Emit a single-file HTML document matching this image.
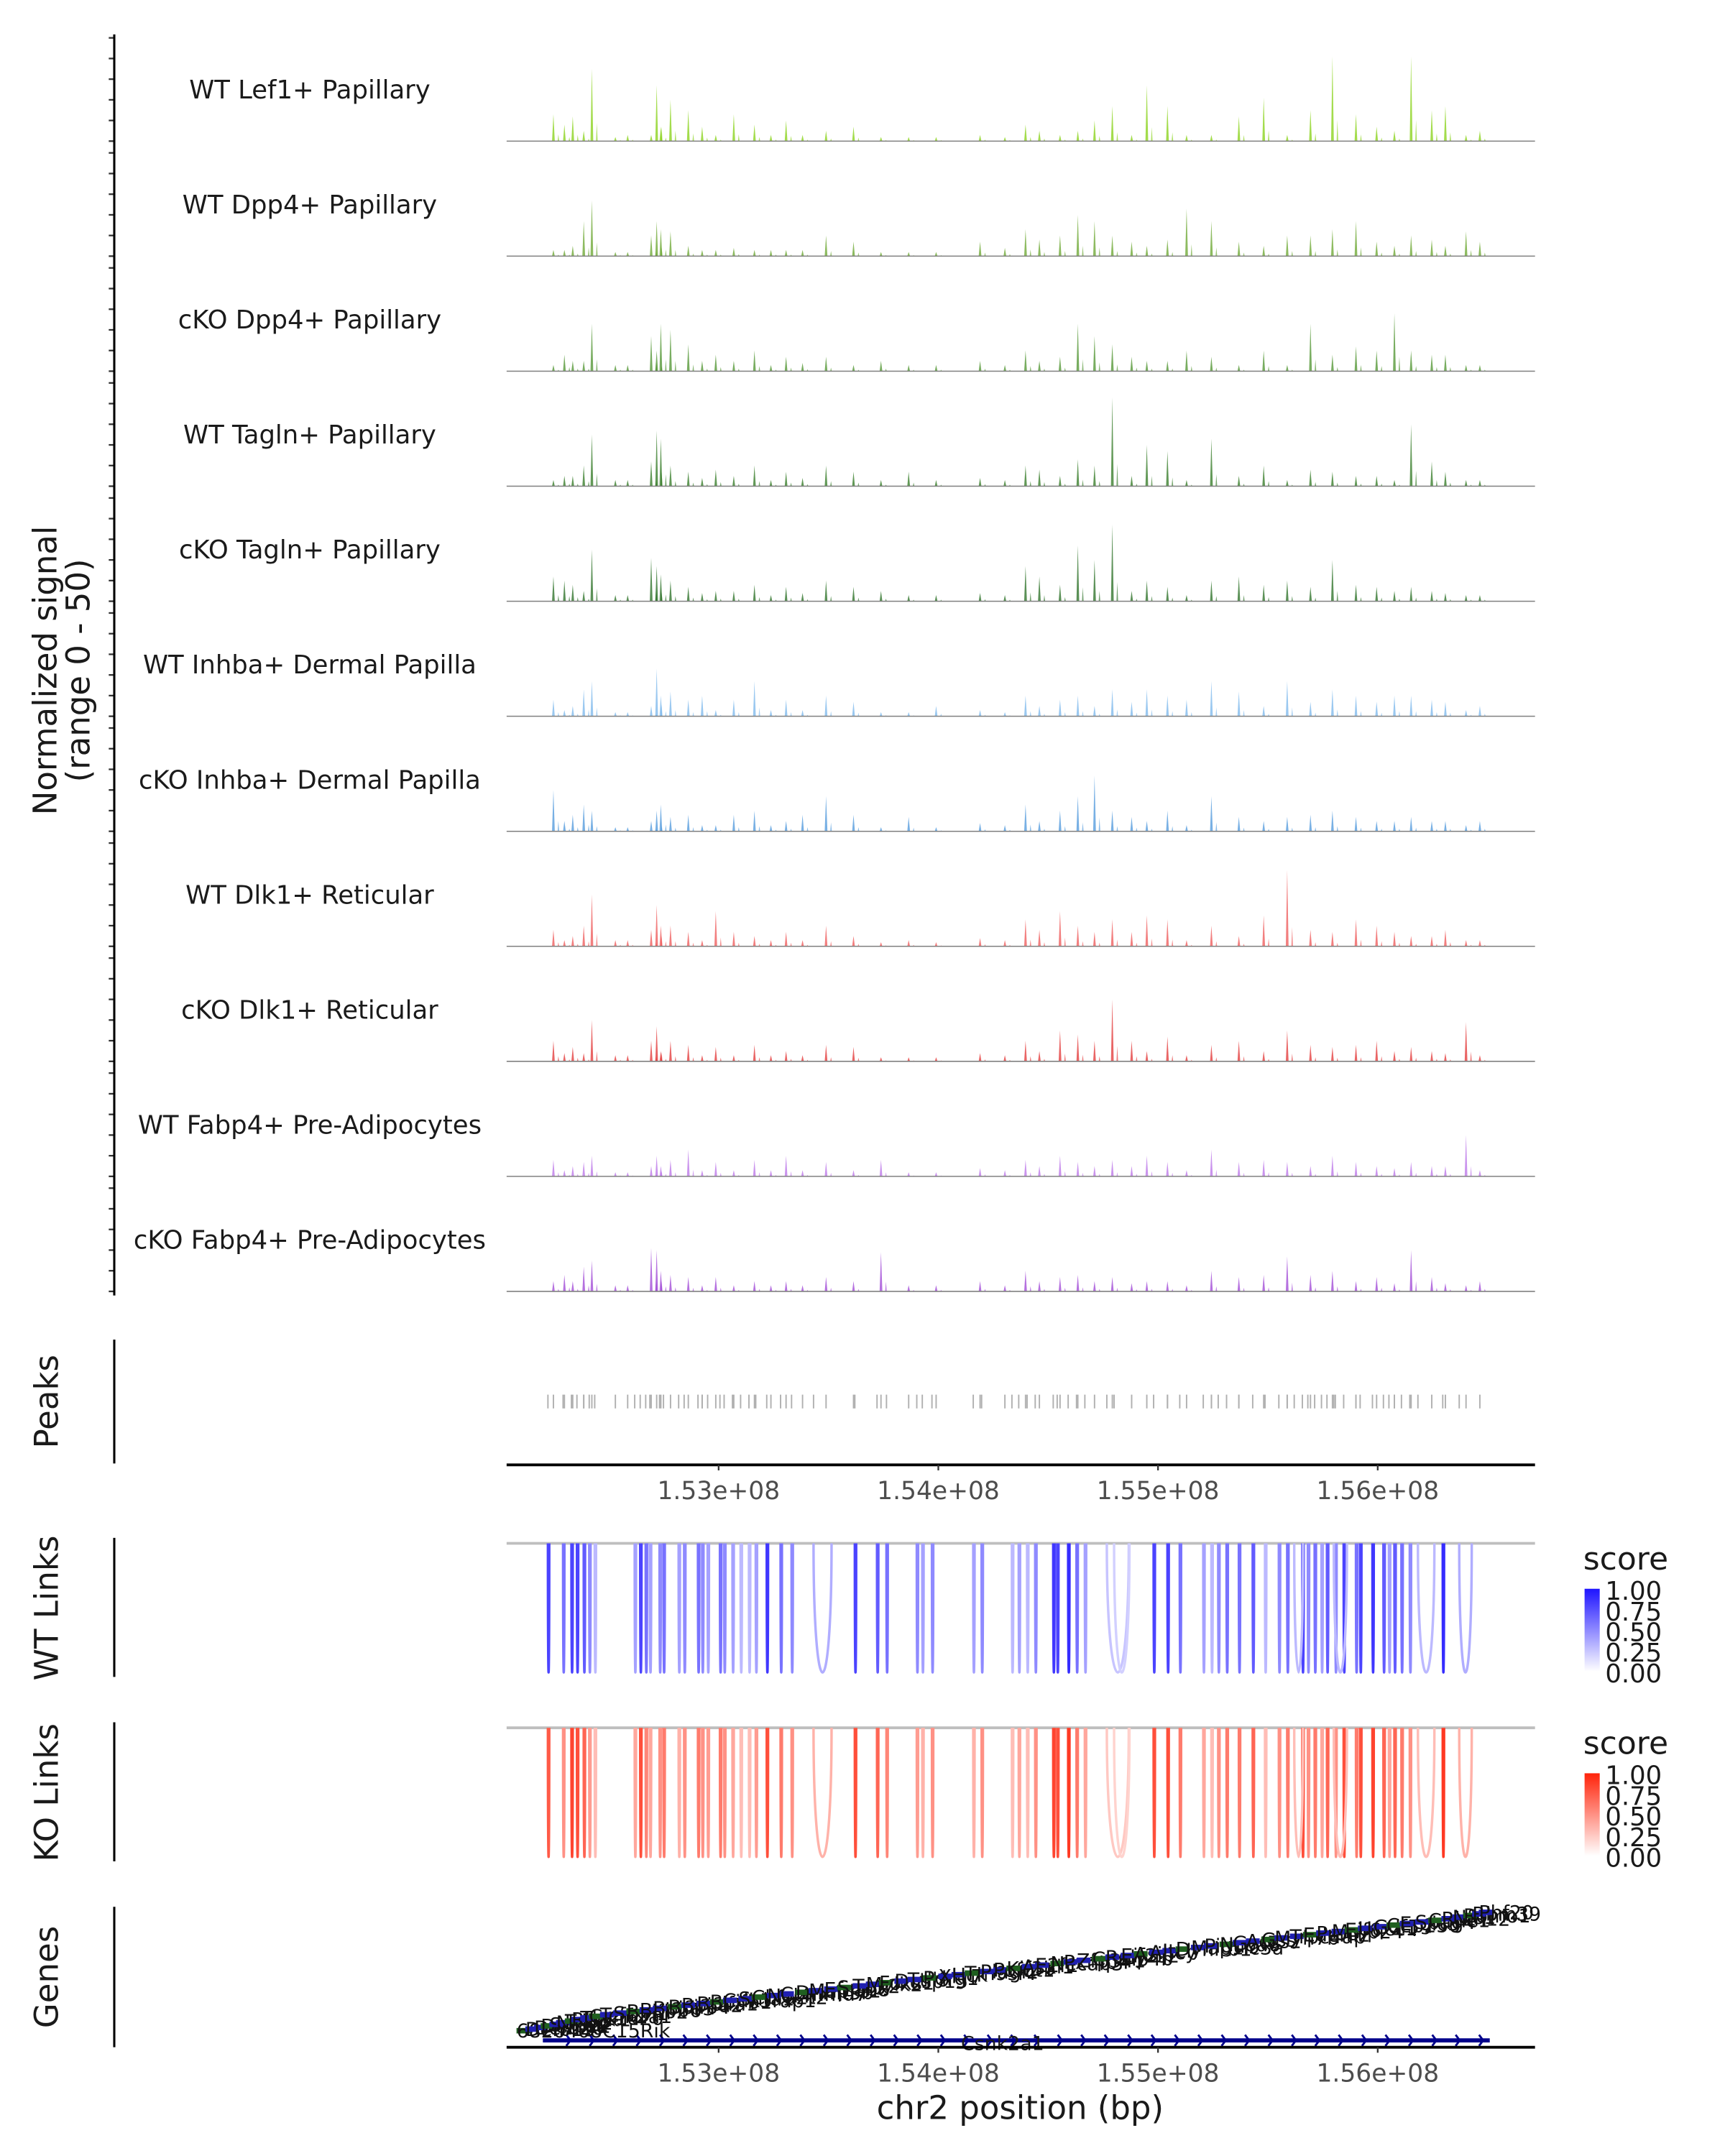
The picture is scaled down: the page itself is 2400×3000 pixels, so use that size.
<!DOCTYPE html>
<html><head><meta charset="utf-8">
<style>
html,body{margin:0;padding:0;background:#fff;}
svg{display:block;font-family:"DejaVu Sans","Liberation Sans",sans-serif;}
</style></head>
<body>
<svg id="chart" width="2400" height="3000" viewBox="0 0 1253 1566" preserveAspectRatio="none" xmlns="http://www.w3.org/2000/svg">
<g id="cov"></g>
<g id="axes"></g>
<g id="peaks"></g>
<g id="links"></g>
<g id="genes"></g>
</svg>
<script>
const trackNames = ["WT Lef1+ Papillary","WT Dpp4+ Papillary","cKO Dpp4+ Papillary","WT Tagln+ Papillary","cKO Tagln+ Papillary","WT Inhba+ Dermal Papilla","cKO Inhba+ Dermal Papilla","WT Dlk1+ Reticular","cKO Dlk1+ Reticular","WT Fabp4+ Pre-Adipocytes","cKO Fabp4+ Pre-Adipocytes"];
const trackColors = ["#7ccd00","#5c9e1c","#3f8a1c","#1f6e10","#16620f","#6fb0ea","#3f8fd8","#ec4848","#e02424","#b466e6","#9634d2"];
const peakLoci = [152.248,152.298,152.336,152.386,152.423,152.530,152.586,152.693,152.718,152.737,152.781,152.862,152.925,152.987,153.069,153.163,153.238,153.307,153.382,153.489,153.614,153.739,153.865,153.990,154.190,154.303,154.397,154.460,154.554,154.635,154.711,154.792,154.880,154.949,155.043,155.130,155.243,155.368,155.481,155.588,155.694,155.794,155.901,155.995,156.076,156.152,156.246,156.308,156.402,156.465];
const sigLef1WT = [13,8,12,5,35,2,3,3,27,7,20,15,7,3,13,8,3,10,3,5,7,2,2,2,3,2,8,5,3,5,10,17,3,27,17,3,3,12,21,3,15,41,13,7,5,41,15,17,3,5];
const sigDpp4WT = [3,3,5,17,27,2,2,10,17,13,12,5,3,3,4,3,3,3,3,10,7,2,2,2,7,4,13,8,10,20,17,10,7,5,8,23,17,7,5,10,10,13,17,7,5,10,8,5,12,7];
const sigDpp4KO = [3,8,5,5,23,3,3,17,10,23,20,13,5,8,5,10,3,7,4,7,3,5,3,3,5,3,10,5,7,23,17,13,7,5,5,10,7,3,10,3,23,8,12,10,28,10,8,8,3,3];
const sigTaglnWT = [3,5,5,10,25,3,3,12,27,23,10,7,4,8,5,10,3,7,4,10,7,3,7,3,4,3,10,8,5,13,10,43,5,20,17,3,23,5,10,3,8,7,5,5,3,30,12,7,3,3];
const sigTaglnKO = [12,10,8,5,25,3,3,21,17,13,10,7,4,5,5,8,3,7,4,10,7,5,3,3,4,3,17,12,8,27,20,37,5,10,7,3,10,12,8,10,7,20,8,7,5,7,5,4,3,3];
const sigInhbaWT = [8,3,5,13,17,2,2,5,23,10,12,8,10,3,8,17,3,8,3,10,7,2,2,5,3,2,10,5,8,10,5,13,7,13,10,8,17,12,5,17,7,13,10,7,10,10,8,7,3,5];
const sigInhbaKO = [20,5,8,13,10,2,2,5,10,13,7,8,3,3,8,10,3,5,8,17,8,2,7,2,4,3,13,5,10,17,27,10,7,5,10,3,17,7,5,7,8,10,7,5,5,7,5,5,3,5];
const sigDlk1WT = [8,3,5,10,25,3,3,8,20,10,10,7,3,17,7,5,3,7,3,10,5,2,3,2,4,3,13,8,17,10,7,13,7,15,13,3,10,5,15,37,8,7,13,10,7,5,5,8,3,3];
const sigDlk1KO = [10,4,7,4,20,3,3,10,17,5,10,8,3,7,3,8,3,5,3,8,7,2,2,2,4,3,10,5,15,13,10,30,10,5,12,3,8,10,5,15,8,7,8,10,5,7,5,4,19,3];
const sigFabp4WT = [8,3,5,7,10,2,2,5,10,5,8,13,3,7,3,8,3,10,3,7,3,8,2,2,4,3,8,5,10,7,5,8,5,10,7,3,13,7,8,7,5,10,7,5,4,7,5,5,20,3];
const sigFabp4KO = [5,8,5,12,15,3,3,21,20,10,8,7,3,7,3,5,3,5,3,7,5,19,3,3,5,3,10,5,7,8,5,7,4,5,5,3,10,7,8,17,8,10,5,7,4,20,7,4,3,5];
const signals = [sigLef1WT,sigDpp4WT,sigDpp4KO,sigTaglnWT,sigTaglnKO,sigInhbaWT,sigInhbaKO,sigDlk1WT,sigDlk1KO,sigFabp4WT,sigFabp4KO];
const xTicks = [153,154,155,156];
const xTickLabels = ["1.53e+08","1.54e+08","1.55e+08","1.56e+08"];
const linkStart = [152.223,152.292,152.330,152.355,152.386,152.411,152.436,152.618,152.643,152.668,152.687,152.731,152.749,152.818,152.843,152.906,152.925,152.950,153.006,153.025,153.063,153.100,153.138,153.169,153.219,153.282,153.332,153.620,153.721,153.764,153.902,153.927,153.971,154.159,154.197,154.335,154.366,154.404,154.441,154.523,154.541,154.591,154.629,154.667,154.980,155.043,155.099,155.206,155.243,155.274,155.312,155.368,155.431,155.487,155.550,155.588,155.657,155.682,155.713,155.744,155.769,155.807,155.845,155.901,155.920,155.976,156.026,156.051,156.076,156.108,156.146,156.296,153.432,154.767,154.800,156.183,156.371,155.620,155.800];
const linkEnd = [152.229,152.298,152.336,152.361,152.392,152.417,152.442,152.624,152.649,152.674,152.693,152.737,152.755,152.824,152.849,152.912,152.931,152.956,153.012,153.031,153.069,153.106,153.144,153.175,153.225,153.288,153.338,153.626,153.727,153.770,153.908,153.933,153.977,154.165,154.203,154.341,154.372,154.410,154.447,154.529,154.547,154.597,154.635,154.673,154.986,155.049,155.105,155.212,155.249,155.280,155.318,155.374,155.437,155.493,155.556,155.594,155.663,155.688,155.719,155.750,155.775,155.813,155.851,155.907,155.926,155.982,156.032,156.057,156.082,156.114,156.152,156.302,153.514,154.867,154.870,156.258,156.428,155.660,155.860];
const wtScore = [0.8,0.6,0.8,0.8,0.7,0.5,0.3,0.4,0.8,0.6,0.4,0.5,0.6,0.4,0.5,0.6,0.5,0.4,0.6,0.5,0.4,0.3,0.3,0.4,0.85,0.6,0.5,0.8,0.7,0.6,0.5,0.4,0.5,0.4,0.5,0.3,0.4,0.3,0.5,0.85,0.8,0.9,0.6,0.4,0.8,0.8,0.6,0.4,0.3,0.5,0.6,0.6,0.7,0.3,0.5,0.6,0.8,0.5,0.6,0.4,0.7,0.5,0.8,0.6,0.8,0.85,0.7,0.4,0.7,0.6,0.5,0.9,0.35,0.25,0.2,0.3,0.35,0.3,0.3];
const koScore = [0.75,0.5,0.85,0.8,0.7,0.45,0.3,0.4,0.8,0.55,0.4,0.5,0.6,0.35,0.5,0.6,0.5,0.45,0.6,0.5,0.4,0.3,0.3,0.45,0.8,0.6,0.5,0.8,0.7,0.55,0.45,0.35,0.5,0.35,0.5,0.3,0.4,0.3,0.5,0.85,0.8,0.9,0.6,0.4,0.8,0.8,0.6,0.4,0.3,0.5,0.6,0.6,0.7,0.3,0.5,0.6,0.8,0.5,0.6,0.4,0.7,0.5,0.8,0.6,0.8,0.85,0.7,0.4,0.7,0.6,0.5,0.9,0.35,0.25,0.2,0.3,0.35,0.3,0.3];
const geneNames = ["6820408C15Rik","Defb19","Defb20","Defb22","Sox12","Nrsn2","Trib3","Rbck1","Tbc1d20","Csnk2a1","Tcf15","Srxn1","Bpifb2","Bpifb6","Bpifb3","Bpifb4","Bpifa2","Bpifa1","Bpifb1","Cdk5rap1","Snta1","Cbfa2t2","Nol4l","Commd7","Dnmt3b","Mapre1","Efcab8","Sun5","Tpx2","Mylk2","Foxs1","Dusp15","Ttll9","Pdrg1","Xkr7","Hck","Tm9sf4","Plagl2","Pofut1","Kif3b","Asxl1","E2f1","Necab3","Pxmp4","Zfp341","Chmp4b","Raly","Eif2s2","Asip","Ahcy","Itch","Dynlrb1","Map1lc3a","Pigu","Ncoa6","Ggt7","Acss2","Gss","Myh7b","Trpc4ap","Edem2","Procr","Mmp24","Eif6","Uqcc1","Gdf5","Cep250","Ergic3","Spag4","Cpne1","Rbm12","Nfs1","Romo1","Rbm39","Phf20"];
const geneStart = [152.08,152.12,152.16,152.19,152.23,152.26,152.30,152.33,152.37,152.41,152.46,152.52,152.58,152.64,152.70,152.77,152.83,152.90,152.96,153.02,153.09,153.15,153.22,153.28,153.35,153.41,153.48,153.54,153.61,153.67,153.73,153.80,153.86,153.93,154.00,154.06,154.12,154.19,154.25,154.31,154.38,154.44,154.51,154.57,154.63,154.70,154.76,154.83,154.89,154.96,155.02,155.08,155.15,155.21,155.28,155.34,155.40,155.47,155.53,155.60,155.66,155.72,155.79,155.85,155.91,155.98,156.04,156.10,156.17,156.23,156.29,156.34,156.39,156.43,156.46];
const longGeneStart = 152.20, longGeneEnd = 156.51;

const NS="http://www.w3.org/2000/svg";
const X0=368,X1=1115,XMIN=152.035,XMAX=156.716;
const xs = v => X0 + (v-XMIN)/(XMAX-XMIN)*(X1-X0);
function mk(parent,tag,attrs,text){const e=document.createElementNS(NS,tag);for(const k in attrs)e.setAttribute(k,attrs[k]);if(text!==undefined)e.textContent=text;parent.appendChild(e);return e;}

const cov=document.getElementById('cov'), axes=document.getElementById('axes');
const PANEL=83.55, B0=102.5, YMAX=50, HPX=75;
signals.forEach((arr,t)=>{
  const base=B0+t*PANEL;
  const g=mk(cov,'g',{});
  
  
  const lab=mk(g,'text',{x:225,y:base-31,'text-anchor':'middle','font-size':18.5,fill:'#1a1a1a'},trackNames[t]);
  
  
  peakLoci.forEach((p,i)=>{
    const v=arr[i]||0;const x=xs(p);const h=v/YMAX*HPX;
    const s=mk(g,'path',{d:`M${x-1},${base} L${x},${base-h} L${x+1},${base} Z`,fill:trackColors[t],'fill-opacity':0.7});
    
    
    const s2=mk(g,'path',{d:`M${x+3},${base} L${x+3.6},${base-h*0.25} L${x+4.2},${base} Z`,fill:trackColors[t],'fill-opacity':0.6});
    
    
  });
  const bl=mk(g,'line',{x1:X0,x2:X1,y1:base,y2:base,stroke:'#808080','stroke-width':0.8});
  
  
  for(let k=0;k<6;k++){const y=base-k*15;const tk=mk(axes,'line',{x1:79,x2:83,y1:y,y2:y,stroke:'#333','stroke-width':1.2});
    
    }
});
mk(axes,'line',{x1:83,x2:83,y1:25,y2:941,stroke:'#000','stroke-width':1.6,});
const yt=mk(axes,'text',{transform:'translate(41,487) rotate(-90)','text-anchor':'middle','font-size':23.5,fill:'#1a1a1a'});


mk(yt,'tspan',{x:0,dy:0},'Normalized signal');
mk(yt,'tspan',{x:0,dy:24},'(range 0 - 50)');

const pk=document.getElementById('peaks');
mk(pk,'line',{x1:83,x2:83,y1:973,y2:1063,stroke:'#000','stroke-width':1.6,});
mk(pk,'text',{transform:'translate(42,1018) rotate(-90)','text-anchor':'middle','font-size':23.5,fill:'#1a1a1a',},'Peaks');
const peakPos = linkStart.concat(peakLoci);
peakPos.forEach(p=>{const x=xs(p);const l=mk(pk,'line',{x1:x,x2:x,y1:1013,y2:1023,stroke:'#b0b0b0','stroke-width':1});
  
  });
function xAxis(parent,y){
  mk(parent,'line',{x1:X0,x2:X1,y1:y,y2:y,stroke:'#000','stroke-width':2,});
  xTicks.forEach((v,i)=>{const x=xs(v);
    const t=mk(parent,'line',{x1:x,x2:x,y1:y,y2:y+4,stroke:'#333','stroke-width':1.2});
    
    
    const l=mk(parent,'text',{x:x,y:y+25,'text-anchor':'middle','font-size':18,fill:'#4d4d4d'},xTickLabels[i]);
    
    });
}
xAxis(pk,1064);

const lk=document.getElementById('links');
function linkPanel(top,title,scores,colorFn,legY,legName){
  const g=mk(lk,'g',{});
  
  
  mk(g,'line',{x1:83,x2:83,y1:top-4,y2:top+97,stroke:'#000','stroke-width':1.6,});
  mk(g,'text',{transform:`translate(42,${top+47}) rotate(-90)`,'text-anchor':'middle','font-size':23.5,fill:'#1a1a1a',},title);
  mk(g,'line',{x1:X0,x2:X1,y1:top,y2:top,stroke:'#bebebe','stroke-width':2,});
  const bot=top+125;
  linkStart.forEach((s,i)=>{const a=xs(s),b=xs(linkEnd[i]);
    const p=mk(g,'path',{d:`M${a},${top} C${a},${bot} ${b},${bot} ${b},${top}`,fill:'none',stroke:colorFn(scores[i]),'stroke-width':1.8});
    
    });
  mk(g,'text',{x:1150,y:legY,'font-size':23,fill:'#1a1a1a',},'score');
  const gid='grad'+legName;
  const defs=mk(g,'defs',{});
  const gr=mk(defs,'linearGradient',{id:gid,x1:0,y1:1,x2:0,y2:0});
  mk(gr,'stop',{offset:'0','stop-color':colorFn(0)});
  mk(gr,'stop',{offset:'1','stop-color':colorFn(1)});
  mk(g,'rect',{x:1151,y:legY+14,width:11,height:60,fill:`url(#${gid})`,});
  ['1.00','0.75','0.50','0.25','0.00'].forEach((t,i)=>{
    const l=mk(g,'text',{x:1166,y:legY+22+i*15,'font-size':18.5,fill:'#1a1a1a'},t);
    
    });
}
linkPanel(1121,'WT Links',wtScore,s=>`rgb(${Math.round(255-s*225)},${Math.round(255-s*235)},255)`,1140,'wt');
linkPanel(1255,'KO Links',koScore,s=>`rgb(255,${Math.round(255-s*220)},${Math.round(255-s*245)})`,1274,'ko');

const gn=document.getElementById('genes');
mk(gn,'line',{x1:83,x2:83,y1:1385,y2:1487,stroke:'#000','stroke-width':1.6,});
mk(gn,'text',{transform:'translate(42,1436) rotate(-90)','text-anchor':'middle','font-size':23.5,fill:'#1a1a1a',},'Genes');
const la=xs(longGeneStart), lb=xs(longGeneEnd);
mk(gn,'line',{x1:la,x2:lb,y1:1482,y2:1482,stroke:'#00008b','stroke-width':3,});
for(let x=la+20;x<lb;x+=17){const c=mk(gn,'path',{d:`M${x-3},${1478} L${x},${1482} L${x-3},${1486}`,fill:'none',stroke:'#00008b','stroke-width':1.5});
  
  }
mk(gn,'text',{x:(la+lb)/2-10,y:1489,'font-size':14,fill:'#1a1a1a','text-anchor':'middle',},'Csnk2a1');
const N=geneNames.length;
geneNames.forEach((nm,i)=>{const x=xs(geneStart[i]);const y=1480-i*(86/(N-1));
  const r=mk(gn,'rect',{x:x,y:y-7,width:10,height:4,fill:i%3===0?'#1f5f1f':'#2020b0'});
  
  
  const t=mk(gn,'text',{x:x,y:y,'font-size':14,fill:'#111'},nm);
  
  });
xAxis(gn,1487);
mk(gn,'text',{x:741,y:1539,'text-anchor':'middle','font-size':23.5,fill:'#1a1a1a',},'chr2 position (bp)');
</script>
</body></html>
